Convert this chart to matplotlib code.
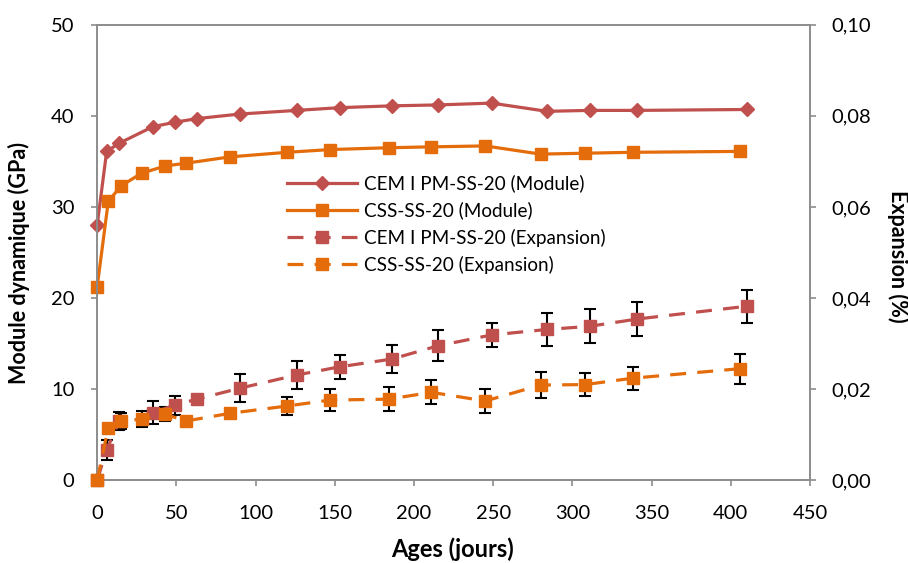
import numpy as np
import matplotlib
matplotlib.use('Agg')
import matplotlib.pyplot as plt
from matplotlib.ticker import FuncFormatter

plt.rcParams['font.family'] = ['Lato', 'DejaVu Sans']

# module dynamique (GPa)
cem_x = [0, 6, 14, 35, 49, 63, 90, 126, 153, 186, 215, 249, 284, 311, 341, 410]
cem_mod = [28.0, 36.1, 37.0, 38.8, 39.3, 39.7, 40.2, 40.6, 40.9, 41.1, 41.2, 41.4, 40.5, 40.6, 40.6, 40.7]
css_x = [0, 7, 15, 28, 43, 56, 84, 120, 147, 184, 211, 245, 280, 308, 338, 406]
css_mod = [21.2, 30.6, 32.3, 33.7, 34.5, 34.8, 35.5, 36.0, 36.3, 36.5, 36.6, 36.7, 35.8, 35.9, 36.0, 36.1]

# expansion (%)
cem_exp = [0.0, 0.0067, 0.0130, 0.0148, 0.0165, 0.0178, 0.0202, 0.0231, 0.0249, 0.0266, 0.0295,
           0.0319, 0.0331, 0.0338, 0.0354, 0.0382]
cem_err = [0.0, 0.0022, 0.0020, 0.0025, 0.0021, 0.0010, 0.0031, 0.0031, 0.0027, 0.0031, 0.0034,
           0.0027, 0.0036, 0.0037, 0.0038, 0.0036]
css_exp = [0.0, 0.0115, 0.0130, 0.0134, 0.0145, 0.0130, 0.0147, 0.0163, 0.0176, 0.0178, 0.0193,
           0.0174, 0.0209, 0.0210, 0.0224, 0.0245]
css_err = [0.0, 0.0005, 0.0018, 0.0017, 0.0016, 0.0008, 0.0008, 0.0020, 0.0024, 0.0026, 0.0026,
           0.0027, 0.0028, 0.0025, 0.0025, 0.0033]

red = '#C0504D'
orange = '#E46C0A'
grey = '#8C8C8C'

fig = plt.figure(figsize=(9.08, 5.63), dpi=100)
ax = fig.add_axes([0.107, 0.147, 0.785, 0.809])
ax2 = ax.twinx()

l1, = ax.plot(cem_x, cem_mod, color=red, lw=2.3, marker='D', ms=7, clip_on=False,
              label='CEM I PM-SS-20 (Module)')
l2, = ax.plot(css_x, css_mod, color=orange, lw=2.3, marker='s', ms=8, clip_on=False,
              label='CSS-SS-20 (Module)')

for xs, ys, es in [(cem_x, cem_exp, cem_err), (css_x, css_exp, css_err)]:
    eb = ax2.errorbar(xs, ys, yerr=es, fmt='none', ecolor='black', elinewidth=1.5,
                      capsize=4, capthick=1.5, zorder=3)
    for art in eb.get_children():
        art.set_clip_on(False)
l3, = ax2.plot(cem_x, cem_exp, color=red, lw=2.3, dashes=(5, 3.5), marker='s', ms=9,
               clip_on=False, label='CEM I PM-SS-20 (Expansion)', zorder=4)
l4, = ax2.plot(css_x, css_exp, color=orange, lw=2.3, dashes=(5, 3.5), marker='s', ms=8.5,
               clip_on=False, label='CSS-SS-20 (Expansion)', zorder=4)

ax.set_xlim(0, 450)
ax.set_ylim(0, 50)
ax2.set_ylim(0, 0.10)
ax.set_xticks(np.arange(0, 451, 50))
ax.set_yticks(np.arange(0, 51, 10))
ax2.set_yticks(np.arange(0, 0.101, 0.02))
ax2.yaxis.set_major_formatter(FuncFormatter(lambda v, p: f'{v:.2f}'.replace('.', ',')))

for a in (ax, ax2):
    for s in a.spines.values():
        s.set_color(grey)
        s.set_linewidth(1.2)
    a.tick_params(colors=grey, labelcolor='black', labelsize=14.5, length=4.5, width=1.2)
ax.tick_params(axis='x', pad=13)
ax.tick_params(axis='y', pad=12)
ax2.tick_params(axis='y', pad=11)

ax.set_xlabel('Ages (jours)', fontsize=17, fontweight='bold', va='baseline')
ax.xaxis.set_label_coords(0.498, -0.169)
ax.set_ylabel('Module dynamique (GPa)', fontsize=15.5, fontweight='bold')
ax.yaxis.set_label_coords(-0.094, 0.477)
ax2.set_ylabel('Expansion (%)', fontsize=15.5, fontweight='bold', rotation=270, va='bottom')
ax2.yaxis.set_label_coords(1.108, 0.492)

ax2.legend(handles=[l1, l2, l3, l4], loc='upper left', bbox_to_anchor=(0.266, 0.671),
           frameon=False, fontsize=13.6, handlelength=3.7, numpoints=1, labelspacing=0.48,
           borderaxespad=0, borderpad=0, handletextpad=0.4)

fig.savefig('out.png', dpi=100)
